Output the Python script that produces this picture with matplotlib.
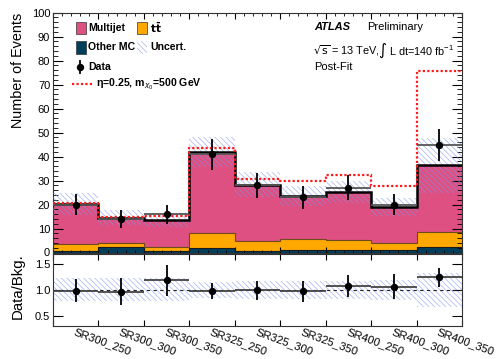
import matplotlib
matplotlib.use("Agg")
import matplotlib.pyplot as plt
import numpy as np
from matplotlib.patches import Rectangle
from matplotlib.lines import Line2D
from matplotlib.ticker import AutoMinorLocator, MultipleLocator

plt.rcParams["font.family"] = ["Liberation Sans", "DejaVu Sans"]
plt.rcParams["mathtext.fontset"] = "dejavusans"
plt.rcParams["hatch.linewidth"] = 0.55

# yields
regions = ["SR300_250", "SR300_300", "SR300_350", "SR325_250", "SR325_300",
           "SR325_350", "SR400_250", "SR400_300", "SR400_350"]
other_mc = np.array([0.7, 2.4, 0.7, 1.7, 0.8, 1.1, 1.2, 1.0, 2.1])
ttbar = np.array([2.8, 1.6, 1.8, 6.5, 4.1, 4.6, 3.9, 3.1, 6.3])
multijet = np.array([16.8, 10.5, 11.0, 33.6, 23.4, 17.9, 20.0, 14.7, 27.9])
data = np.array([20, 14, 16, 41, 28, 23, 27, 20, 45])
sig_plus_bkg = np.array([20.6, 15.0, 15.3, 43.4, 30.5, 29.7, 32.4, 27.7, 75.5])
unc_rel = np.array([0.22, 0.22, 0.22, 0.15, 0.18, 0.18, 0.18, 0.20, 0.32])

c_mj = "#DD5081"
c_tt = "#FFA800"
c_oth = "#003F5C"
c_hatch = "#7f95ea"
HATCH = "\\" * 6

W, H = 502, 359
fig = plt.figure(figsize=(W / 100, H / 100), dpi=100)


def fx(x):
    return x / W


def fy(y):
    return 1 - y / H


ax = fig.add_axes([fx(53), fy(252.5), fx(462) - fx(53), fy(12.7) - fy(252.5)])
axr = fig.add_axes([fx(53), fy(326.3), fx(462) - fx(53), fy(253.5) - fy(326.3)])

n = len(regions)
edges = np.arange(n + 1)
centers = edges[:-1] + 0.5
total = other_mc + ttbar + multijet
unc = total * unc_rel

# stack
ax.stairs(other_mc, edges, baseline=0, fill=True, color=c_oth, zorder=1)
ax.stairs(other_mc + ttbar, edges, baseline=other_mc, fill=True, color=c_tt, zorder=1)
ax.stairs(total, edges, baseline=other_mc + ttbar, fill=True, color=c_mj, zorder=1)
ax.stairs(other_mc, edges, baseline=None, color="#1a1a1a", lw=0.8, zorder=2)
ax.stairs(other_mc + ttbar, edges, baseline=None, color="#6b4c1a", lw=0.8, zorder=2)

# uncertainty band
ax.bar(centers, 2 * unc, bottom=total - unc, width=1.0, fill=False, hatch=HATCH,
       edgecolor=c_hatch, linewidth=0, alpha=0.65, zorder=3)
ax.stairs(total, edges, baseline=None, color="black", lw=1.8, zorder=4)
ax.stairs(sig_plus_bkg, edges, baseline=None, color="#ff1a1a", lw=1.6,
          linestyle=(0, (1, 1)), zorder=5)

# data
ax.hlines(data, edges[:-1], edges[1:], color="#555555", lw=1.3, zorder=6)
ax.errorbar(centers, data, yerr=np.sqrt(data), fmt="o", color="black", ms=4.3,
            elinewidth=1.3, capsize=0, zorder=7)

ax.set_xlim(0, n)
ax.set_ylim(0, 100)
ax.set_xticks(edges)
ax.set_xticklabels([])
ax.xaxis.set_minor_locator(AutoMinorLocator(5))
ax.yaxis.set_major_locator(MultipleLocator(10))
ax.yaxis.set_minor_locator(MultipleLocator(2))
ax.tick_params(which="both", direction="in", top=True, right=True, labelsize=8, pad=2)
ax.tick_params(axis="y", which="major", length=7)
ax.tick_params(axis="y", which="minor", length=3.5)
ax.tick_params(axis="x", which="major", length=4)
ax.tick_params(axis="x", which="minor", length=2.2)

# ratio
ratio = data / total
ratio_err = np.sqrt(data) / total
axr.bar(centers, 2 * unc_rel, bottom=1 - unc_rel, width=1.0, fill=False, hatch=HATCH,
        edgecolor=c_hatch, linewidth=0, alpha=0.65, zorder=1)
axr.axhline(1.0, color="#222222", lw=0.8, ls=(0, (3, 3)), zorder=2)
axr.hlines(ratio, edges[:-1], edges[1:], color="#444444", lw=1.3, zorder=3)
axr.errorbar(centers, ratio, yerr=ratio_err, fmt="o", color="black", ms=4.3,
             elinewidth=1.3, capsize=0, zorder=4)
axr.set_xlim(0, n)
axr.set_ylim(0.3, 1.7)
axr.set_yticks([0.5, 1.0, 1.5])
axr.set_yticklabels(["0.5", "1.0", "1.5"])
axr.set_xticks(edges)
axr.set_xticklabels([])
axr.set_xticks(centers, minor=True)
axr.set_xticklabels(regions, minor=True)
axr.tick_params(which="both", direction="in", top=True, right=True, labelsize=8, pad=2)
axr.tick_params(axis="y", which="major", length=7)
axr.tick_params(axis="x", which="major", length=4)
axr.tick_params(axis="x", which="minor", length=0, pad=0.5, labelsize=8.2)
for lab in axr.get_xticklabels(minor=True):
    lab.set_rotation(-20)
    lab.set_ha("left")
    lab.set_va("top")
    lab.set_rotation_mode("anchor")

for a in (ax, axr):
    for s in a.spines.values():
        s.set_linewidth(0.8)
        s.set_color("#333333")

fig.text(fx(18), fy(70), "Number of Events", rotation=90, ha="center", va="center", fontsize=10.4)
fig.text(fx(17.5), fy(286.5), "Data/Bkg.", rotation=90, ha="center", va="center", fontsize=10.8)

# legend drawn by hand (ROOT style layout)
def box(x0, y0, **kw):
    fig.patches.append(Rectangle((fx(x0), fy(y0 + 12)), fx(10), 12 / H,
                                 transform=fig.transFigure, **kw))


box(76, 22, facecolor=c_mj, edgecolor="#333333", lw=0.5)
box(137, 22, facecolor=c_tt, edgecolor="#333333", lw=0.5)
box(76, 41.5, facecolor=c_oth, edgecolor="#333333", lw=0.5)
box(137, 41.5, fill=False, hatch=HATCH, edgecolor=c_hatch, lw=0, alpha=0.65)
lkw = dict(fontsize=7.6, fontweight="bold", va="center", ha="left")
fig.text(fx(88), fy(28), "Multijet", **lkw)
fig.text(fx(150), fy(28), r"$\mathbf{t\bar{t}}$", **lkw)
fig.text(fx(88), fy(47.5), "Other MC", **lkw)
fig.text(fx(150), fy(47.5), "Uncert.", **lkw)
fig.lines.append(Line2D([fx(80), fx(80)], [fy(61), fy(73)], color="black", lw=1.3,
                        transform=fig.transFigure))
fig.lines.append(Line2D([fx(80)], [fy(67)], marker="o", ms=4.3, color="black",
                        transform=fig.transFigure))
fig.text(fx(88), fy(67), "Data", **lkw)
fig.lines.append(Line2D([fx(72), fx(92)], [fy(84), fy(84)], color="#ff1a1a", lw=1.6,
                        ls=(0, (1, 1)), transform=fig.transFigure))
fig.text(fx(96), fy(84), "η=0.25, m$_{\\chi_0}$=500 GeV", **lkw)

fig.text(fx(314), fy(27.5), "ATLAS", fontsize=8, fontweight="bold", fontstyle="italic",
         va="center", ha="left")
fig.text(fx(367), fy(27.5), "Preliminary", fontsize=8, va="center", ha="left")
fig.text(fx(313), fy(51), r"$\sqrt{\mathrm{s}}$ = 13 TeV,", fontsize=7.8,
         va="center", ha="left")
fig.text(fx(378.5), fy(51), r"$\int$ L dt=140 fb$^{\mathregular{-1}}$", fontsize=7.8,
         va="center", ha="left")
fig.text(fx(314), fy(66.5), "Post-Fit", fontsize=8, va="center", ha="left")

fig.savefig("out.png", dpi=100)
